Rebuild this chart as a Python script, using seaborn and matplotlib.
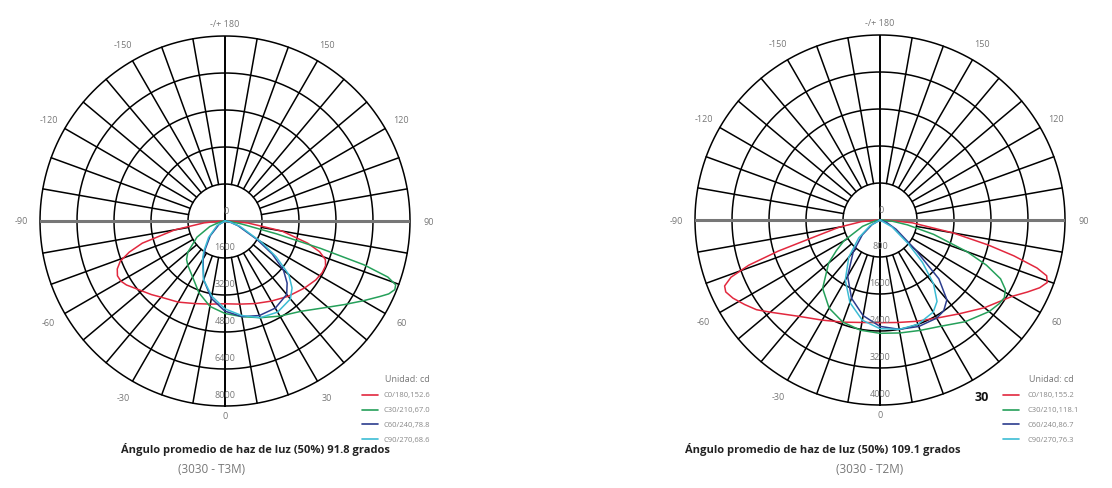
import numpy as np
import pandas as pd
import matplotlib
matplotlib.use("Agg")
import matplotlib.pyplot as plt
import seaborn as sns
from matplotlib.lines import Line2D

sns.set_style("white")
plt.rcParams['font.family'] = ['Open Sans', 'DejaVu Sans']

# ---------------- datos: grafico izquierdo (3030 - T3M) ----------------
izq_anillos = [1600, 3200, 4800, 6400, 8000]

izq_c0_gamma = [-90, -85, -80, -75, -72, -69, -66, -63, -60, -57, -54, -50, -45, -40, -30, -20, -10, 0,
                10, 20, 30, 40, 50, 57, 62, 66, 69, 72, 75, 80, 85, 90]
izq_c0_cd = [150, 900, 2200, 3700, 4350, 4850, 5100, 5220, 5200, 5080, 4900, 4700, 4500, 4300, 4050, 3800, 3650, 3580,
             3650, 3800, 4000, 4250, 4500, 4680, 4760, 4760, 4650, 4300, 3700, 2500, 1000, 150]

izq_c30_gamma = [-90, -80, -70, -60, -50, -45, -40, -30, -20, -10, 0, 10, 20, 30, 40, 50,
                 55, 60, 64, 66, 68, 69.5, 71, 72.5, 74, 76, 80, 85, 90]
izq_c30_cd = [0, 200, 700, 1400, 2100, 2350, 2500, 2800, 3300, 3750, 4000, 4200, 4450, 4750, 5100, 5800,
              6300, 6900, 7450, 7750, 7920, 7880, 7450, 6300, 4300, 2300, 700, 200, 50]

izq_c60_gamma = [-90, -60, -45, -35, -30, -20, -10, 0, 10, 20, 30, 40, 45, 50, 55, 60, 70, 80, 90]
izq_c60_cd = [0, 300, 900, 1500, 1900, 2700, 3400, 3900, 4200, 4350, 4350, 4150, 3800, 3300, 2500, 1600, 600, 200, 0]

izq_c90_gamma = [-90, -60, -45, -35, -30, -20, -10, 0, 10, 20, 30, 40, 45, 50, 55, 60, 70, 80, 90]
izq_c90_cd = [0, 400, 1000, 1600, 1950, 2700, 3300, 3800, 4150, 4450, 4550, 4400, 4100, 3600, 2700, 1800, 700, 200, 0]

izq_leyenda = ["C0/180,152.6", "C30/210,67.0", "C60/240,78.8", "C90/270,68.6"]

# ---------------- datos: grafico derecho (3030 - T2M) ----------------
der_anillos = [800, 1600, 2400, 3200, 4000]

der_c0_gamma = [-90, -85, -80, -75, -73, -71, -69, -67, -65, -62, -58, -54, -50, -40, -30, -20, -10, 0,
                10, 20, 30, 40, 50, 60, 64, 67, 69.5, 71.5, 73, 75, 77, 80, 85, 90]
der_c0_cd = [50, 400, 900, 1600, 2300, 3000, 3450, 3650, 3680, 3600, 3450, 3300, 3100, 2720, 2500, 2350, 2250, 2220,
             2250, 2330, 2450, 2650, 2950, 3300, 3550, 3750, 3860, 3800, 3550, 3000, 2400, 1600, 700, 100]

der_c30_gamma = [-90, -80, -70, -60, -55, -50, -40, -30, -20, -10, 0, 10, 20, 30, 40, 50,
                 55, 58, 61, 64, 67, 70, 75, 80, 85, 90]
der_c30_cd = [0, 100, 400, 900, 1150, 1450, 1930, 2200, 2350, 2420, 2450, 2480, 2540, 2650, 2870, 3080,
              3150, 3170, 3100, 2900, 2500, 2000, 1200, 600, 250, 50]

der_c60_gamma = [-90, -60, -50, -40, -30, -20, -10, 0, 10, 20, 30, 35, 40, 45, 50, 60, 70, 90]
der_c60_cd = [0, 200, 500, 900, 1400, 1800, 2100, 2300, 2400, 2450, 2450, 2400, 2250, 1800, 1000, 400, 150, 0]

der_c90_gamma = [-90, -60, -50, -40, -30, -20, -10, 0, 10, 20, 30, 35, 40, 45, 50, 60, 90]
der_c90_cd = [0, 250, 600, 1050, 1500, 1900, 2200, 2350, 2400, 2400, 2300, 2150, 1800, 1300, 800, 300, 0]

der_leyenda = ["C0/180,155.2", "C30/210,118.1", "C60/240,86.7", "C90/270,76.3"]

planos = ["C0/180", "C30/210", "C60/240", "C90/270"]
colores = {"C0/180": "#e2283e", "C30/210": "#25a05a", "C60/240": "#2b3c8e", "C90/270": "#3cbcd4"}

angulos = [0, 30, 60, 90, 120, 150, 180, -150, -120, -90, -60, -30]
etiquetas_ang = ["0", "30", "60", "90", "120", "150", "-/+ 180", "-150", "-120", "-90", "-60", "-30"]

titulo_izq = "Ángulo promedio de haz de luz (50%) 91.8 grados"
sub_izq = "(3030 - T3M)"
titulo_der = "Ángulo promedio de haz de luz (50%) 109.1 grados"
sub_der = "(3030 - T2M)"


def tabla(series):
    filas = []
    for plano, gam, cd in series:
        for g, v in zip(gam, cd):
            filas.append({"plano": plano, "theta": np.deg2rad(g), "cd": v})
    return pd.DataFrame(filas)


df_izq = tabla([("C0/180", izq_c0_gamma, izq_c0_cd), ("C30/210", izq_c30_gamma, izq_c30_cd),
                ("C60/240", izq_c60_gamma, izq_c60_cd), ("C90/270", izq_c90_gamma, izq_c90_cd)])
df_der = tabla([("C0/180", der_c0_gamma, der_c0_cd), ("C30/210", der_c30_gamma, der_c30_cd),
                ("C60/240", der_c60_gamma, der_c60_cd), ("C90/270", der_c90_gamma, der_c90_cd)])

W, H = 1112, 489
fig = plt.figure(figsize=(W / 100, H / 100), dpi=100)


def px(x, y):
    return x / W, 1 - y / H


def polar(cx, cy, rad, df, anillos, negrita30=False):
    ax = fig.add_axes([(cx - rad) / W, (H - cy - rad) / H, 2 * rad / W, 2 * rad / H], projection="polar")
    ax.set_theta_zero_location("S")
    ax.set_theta_direction(1)
    rmax = anillos[-1]
    ax.set_ylim(0, rmax)
    ax.grid(False)
    ax.set_xticks([])
    ax.set_yticks([])
    ax.spines["polar"].set_visible(False)

    th = np.linspace(0, 2 * np.pi, 400)
    for r in anillos:
        ax.plot(th, np.full_like(th, r), color="black", lw=1.1, clip_on=False, zorder=1)
    for a in range(0, 360, 10):
        t = np.deg2rad(a)
        if a % 90 == 0:
            continue
        ax.plot([t, t], [anillos[0], rmax], color="black", lw=1.1, clip_on=False, zorder=1)
    # ejes principales
    ax.plot([0, 0], [0, rmax], color="black", lw=1.4, zorder=1)
    ax.plot([np.pi, np.pi], [0, rmax], color="black", lw=1.4, zorder=1)
    ax.plot([np.pi / 2, np.pi / 2], [0, rmax], color="#777777", lw=2.2, zorder=1)
    ax.plot([-np.pi / 2, -np.pi / 2], [0, rmax], color="#777777", lw=2.2, zorder=1)

    sns.lineplot(data=df, x="theta", y="cd", hue="plano", palette=colores, sort=False,
                 estimator=None, legend=False, lw=1.1, ax=ax, zorder=3)
    ax.set_xlabel("")
    ax.set_ylabel("")
    ax.set_ylim(0, rmax)

    # etiquetas de angulo
    for a, lab in zip(angulos, etiquetas_ang):
        rr = 1.1 if a not in (0, 180) else 1.07
        if a == 0:
            rr = 1.05
        if negrita30 and a == 30:
            ax.text(np.deg2rad(a), rmax * rr, lab, ha="center", va="center", fontsize=9,
                    fontweight="bold", color="#111111", clip_on=False)
        else:
            ax.text(np.deg2rad(a), rmax * rr, lab, ha="center", va="center", fontsize=6.5,
                    color="#777777", clip_on=False)
    # etiquetas radiales
    ax.text(np.deg2rad(175), rmax * 0.055, "0", ha="center", va="center", fontsize=6.5, color="#777777", zorder=4)
    for r in anillos:
        ax.text(0, r - rmax * 0.06, str(r), ha="center", va="center", fontsize=6.5, color="#777777", zorder=4)
    return ax


polar(225, 222, 185, df_izq, izq_anillos)
polar(880, 221, 185, df_der, der_anillos, negrita30=True)


def leyenda(x_linea, x_texto, textos):
    fig.text(*px(x_texto + 2, 380), "Unidad: cd", fontsize=6.5, color="#777777", va="center")
    for i, (plano, t) in enumerate(zip(planos, textos)):
        y = 396 + i * 14.7
        x0, y0 = px(x_linea, y)
        x1, _ = px(x_linea + 16, y)
        fig.add_artist(Line2D([x0, x1], [y0, y0], color=colores[plano], lw=1.2, transform=fig.transFigure))
        fig.text(*px(x_texto, y), t, fontsize=5.5, color="#888888", va="center")


leyenda(362, 383, izq_leyenda)
leyenda(1003, 1027, der_leyenda)

fig.text(*px(255, 450), titulo_izq, ha="center", va="center", fontsize=8, fontweight="bold", color="#222222")
fig.text(*px(212, 470), sub_izq, ha="center", va="center", fontsize=8.5, color="#777777")
fig.text(*px(823, 450), titulo_der, ha="center", va="center", fontsize=8, fontweight="bold", color="#222222")
fig.text(*px(870, 470), sub_der, ha="center", va="center", fontsize=8.5, color="#777777")

fig.savefig("out.png", dpi=100, facecolor="white")
